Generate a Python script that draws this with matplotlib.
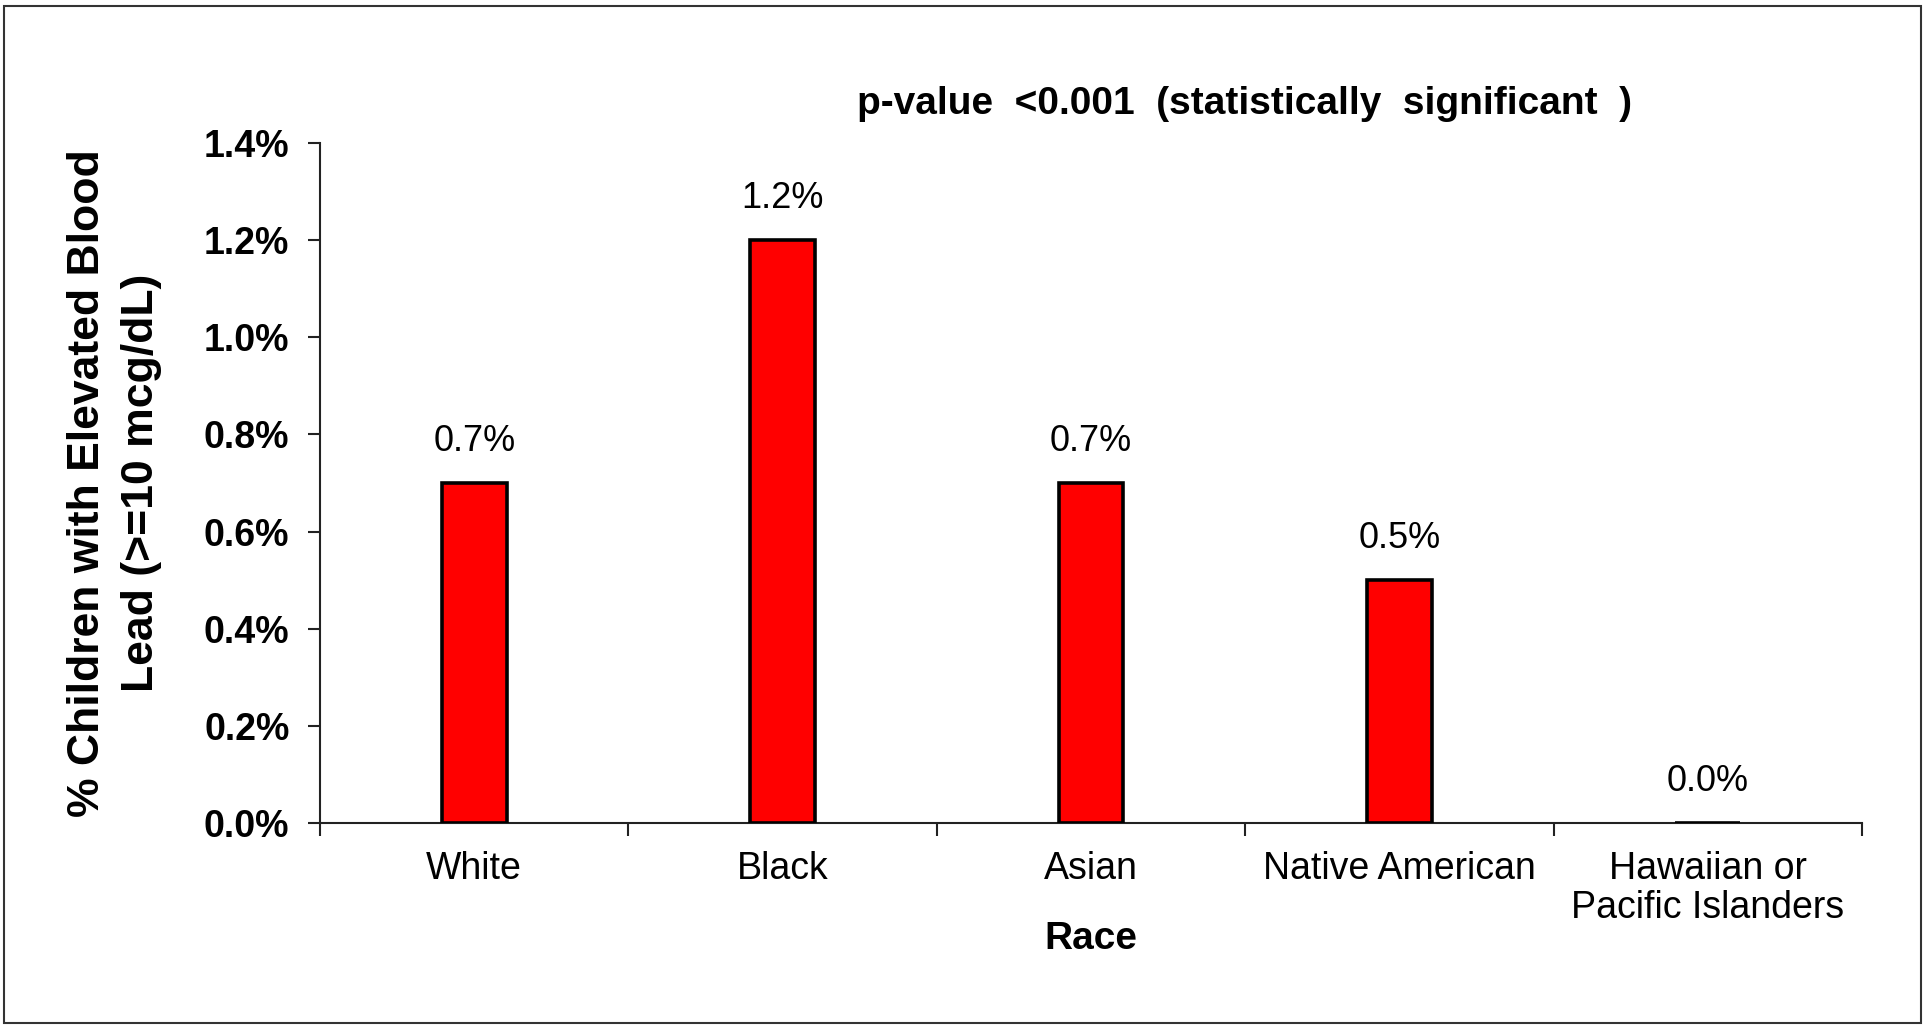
import numpy as np
import matplotlib.pyplot as plt
from matplotlib.patches import Rectangle
from matplotlib.ticker import FuncFormatter, FixedLocator

races = ["White", "Black", "Asian", "Native American", "Hawaiian or\nPacific Islanders"]
pct_elevated = [0.7, 1.2, 0.7, 0.5, 0.0]
y_ticks = [0.0, 0.2, 0.4, 0.6, 0.8, 1.0, 1.2, 1.4]

plt.rcParams['font.family'] = ['Liberation Sans', 'DejaVu Sans']

fig = plt.figure(figsize=(19.23, 10.26), dpi=100)
ax = fig.add_axes([0.1664, 0.1979, 0.8019, 0.6628])

# thin border round the whole slide
fig.patches.append(Rectangle((0.0021, 0.0029), 0.9969, 0.9912, transform=fig.transFigure,
                             fill=False, edgecolor='#333333', linewidth=1.5))

x = np.arange(len(races))
ax.bar(x, pct_elevated, width=0.21, color='#ff0000', edgecolor='black', linewidth=2.6, zorder=3)

for xi, v in zip(x, pct_elevated):
    ax.annotate("%.1f%%" % v, (xi, v), xytext=(0, 30), textcoords='offset points',
                ha='center', va='center', fontsize=26)

ax.set_xlim(-0.5, len(races) - 0.5)
ax.set_ylim(0, 1.4)
ax.set_yticks(y_ticks)
ax.yaxis.set_major_formatter(FuncFormatter(lambda v, p: "%.1f%%" % v))
ax.set_xticks(x)
ax.set_xticklabels(races, linespacing=1.1)
ax.xaxis.set_minor_locator(FixedLocator(np.arange(-0.5, len(races), 1.0)))

for s in ['top', 'right']:
    ax.spines[s].set_visible(False)
for s in ['left', 'bottom']:
    ax.spines[s].set_linewidth(1.5)
    ax.spines[s].set_color('#222222')

ax.tick_params(axis='y', direction='out', length=9, width=1.5, pad=13, labelsize=27, color='#222222')
for lbl in ax.get_yticklabels():
    lbl.set_fontweight('bold')
ax.tick_params(axis='x', which='major', length=0, pad=20, labelsize=27)
ax.tick_params(axis='x', which='minor', direction='out', length=9, width=1.5, color='#222222')

ax.set_xlabel("Race", fontsize=28, fontweight='bold', labelpad=-3)
ax.set_ylabel("% Children with Elevated Blood\nLead (>=10 mcg/dL)", fontsize=32,
              fontweight='bold', labelpad=30, linespacing=1.4)

fig.text(0.647, 0.899, "p-value  <0.001  (statistically  significant  )",
         ha='center', va='center', fontsize=28, fontweight='bold')

plt.savefig("out.png", dpi=100)
